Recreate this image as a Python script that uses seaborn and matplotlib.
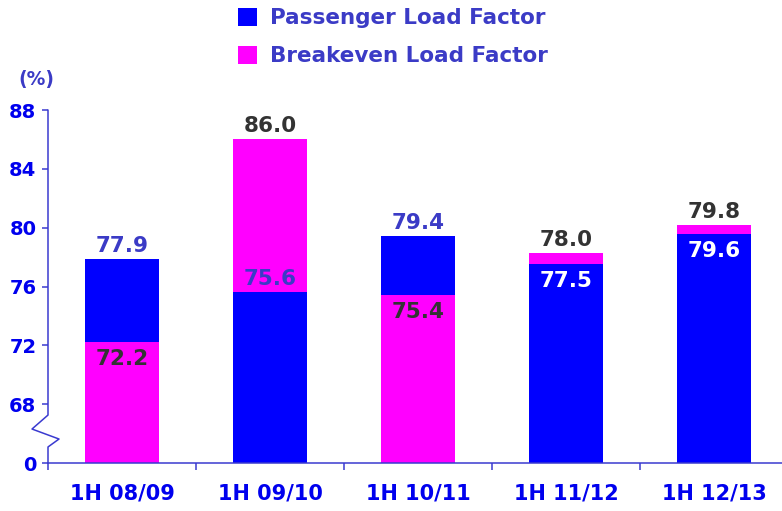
import numpy as np
import pandas as pd
import seaborn as sns
import matplotlib.pyplot as plt
from matplotlib.patches import Patch
import matplotlib.transforms as mtransforms

# data
periods = ['1H 08/09', '1H 09/10', '1H 10/11', '1H 11/12', '1H 12/13']
passenger = [77.9, 75.6, 79.4, 77.5, 79.6]
breakeven = [72.2, 86.0, 75.4, 78.3, 80.2]          # bar heights as drawn
passenger_labels = ['77.9', '75.6', '79.4', '77.5', '79.6']
breakeven_labels = ['72.2', '86.0', '75.4', '78.0', '79.8']
series = ['Passenger Load Factor', 'Breakeven Load Factor']
yticks = [64, 68, 72, 76, 80, 84, 88]
ytick_labels = ['0', '68', '72', '76', '80', '84', '88']

BLUE = '#0000ff'
MAGENTA = '#ff00ff'
SLATE = '#3b3bc6'
GREY = '#333333'
AXIS = '#3a3ad0'

df = pd.DataFrame({
    'period': periods * 2,
    'series': [series[0]] * 5 + [series[1]] * 5,
    'value': passenger + breakeven,
})
back = df.loc[df.groupby('period')['value'].idxmax()]
front = df.loc[df.groupby('period')['value'].idxmin()]

sns.set_style('white')
plt.rcParams['font.family'] = ['DejaVu Sans']
plt.rcParams['font.weight'] = 'bold'

fig = plt.figure(figsize=(7.82, 5.11), dpi=100)
ax = fig.add_axes([48 / 782, 48 / 511, 740 / 782, 353 / 511])

pal = {series[0]: BLUE, series[1]: MAGENTA}
for layer in [back, front]:
    sns.barplot(data=layer, x='period', y='value', hue='series', order=periods,
                hue_order=series, palette=pal, dodge=False, width=0.5,
                saturation=1, legend=False, linewidth=0, edgecolor='none', ax=ax)

ax.set_xlim(-0.5, 4.5)
ax.set_ylim(64, 88)
ax.set_xlabel('')
ax.set_ylabel('')

# value labels: (text, value, where, colour)
pos_p = ['above', 'above', 'above', 'inside', 'inside']
col_p = [SLATE, SLATE, SLATE, 'white', 'white']
pos_b = ['inside', 'above', 'inside', 'above', 'above']
col_b = [GREY, GREY, GREY, GREY, GREY]
for vals, labs, poss, cols in [(passenger, passenger_labels, pos_p, col_p),
                               (breakeven, breakeven_labels, pos_b, col_b)]:
    for i, (v, t, p, c) in enumerate(zip(vals, labs, poss, cols)):
        if p == 'above':
            ax.annotate(t, (i, v), xytext=(0, 7), textcoords='offset pixels',
                        ha='center', va='baseline', fontsize=15.5,
                        fontweight='bold', color=c)
        else:
            ax.annotate(t, (i, v), xytext=(0, -7), textcoords='offset pixels',
                        ha='center', va='top', fontsize=15.5,
                        fontweight='bold', color=c)

# axes styling
for s in ['top', 'right', 'left']:
    ax.spines[s].set_visible(False)
ax.spines['bottom'].set_color(AXIS)
ax.spines['bottom'].set_linewidth(1.1)

ax.set_xticks(np.arange(-0.5, 5, 1))
ax.set_xticklabels([])
ax.set_xticks(range(5), periods, minor=True)
ax.tick_params(axis='x', which='major', direction='out', length=5, width=1.1,
               color=AXIS, bottom=True)
ax.tick_params(axis='x', which='minor', length=0, pad=15, labelsize=15,
               labelcolor='#0000ee', bottom=True)
ax.set_yticks(yticks, ytick_labels)
ax.tick_params(axis='y', direction='out', length=4.3, width=1.1, color=AXIS,
               pad=4, labelsize=14, labelcolor='#0000ee', left=True)
for lab in ax.get_xticklabels(minor=True) + ax.get_yticklabels():
    lab.set_fontweight('bold')

# left axis line with break mark
trans = mtransforms.blended_transform_factory(ax.transAxes, ax.transData)
ax.plot([0, 0, -16 / 740, 11 / 740, 0, 0], [88, 67.26, 66.31, 65.63, 65.09, 64],
        color=AXIS, lw=1.1, transform=trans, clip_on=False)

fig.text(18 / 782, 1 - 80 / 511, '(%)', fontsize=13.5, fontweight='bold',
         color=SLATE, va='center', ha='left')

handles = [Patch(facecolor=BLUE, edgecolor='none'),
           Patch(facecolor=MAGENTA, edgecolor='none')]
leg = fig.legend(handles, series, loc='upper left',
                 bbox_to_anchor=(238 / 782, 1 - 8 / 511), frameon=False,
                 borderpad=0, borderaxespad=0, handlelength=0.88,
                 handleheight=0.88, handletextpad=0.6, labelspacing=0.83,
                 prop={'size': 15.5, 'weight': 'bold'})
for t in leg.get_texts():
    t.set_color(SLATE)

fig.savefig('out.png', dpi=100)
